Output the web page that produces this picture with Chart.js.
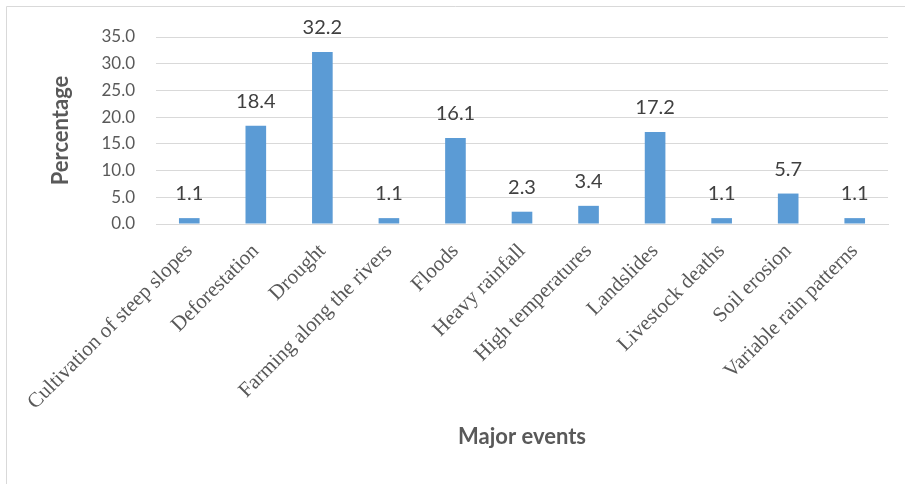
<!DOCTYPE html>
<html>
<head>
<meta charset="utf-8">
<script src="https://cdn.jsdelivr.net/npm/chart.js@4.4.0/dist/chart.umd.min.js"></script>
<style>
html,body{margin:0;padding:0;background:#fff;}
#wrap{width:905px;height:484px;position:relative;}
</style>
</head>
<body>
<div id="wrap"><canvas id="c" width="905" height="484"></canvas></div>
<script>
const categories = ["Cultivation of steep slopes","Deforestation","Drought","Farming along the rivers","Floods","Heavy rainfall","High temperatures","Landslides","Livestock deaths","Soil erosion","Variable rain patterns"];
const percentages = [1.1, 18.4, 32.2, 1.1, 16.1, 2.3, 3.4, 17.2, 1.1, 5.7, 1.1];
const yTicks = [0, 5, 10, 15, 20, 25, 30, 35];
const yTitle = "Percentage";
const xTitle = "Major events";

const frame = {
  id: 'frame',
  beforeDraw(chart) {
    const ctx = chart.ctx;
    ctx.save();
    ctx.strokeStyle = '#d9d9d9';
    ctx.lineWidth = 1;
    ctx.beginPath();
    ctx.moveTo(6.5, 484);
    ctx.lineTo(6.5, 6.5);
    ctx.lineTo(905, 6.5);
    ctx.stroke();
    ctx.restore();
  }
};
const dataLabels = {
  id: 'dataLabels',
  afterDatasetsDraw(chart) {
    const ctx = chart.ctx;
    const meta = chart.getDatasetMeta(0);
    ctx.save();
    ctx.font = '20px Lato';
    ctx.fillStyle = '#404040';
    ctx.textAlign = 'center';
    ctx.textBaseline = 'alphabetic';
    meta.data.forEach((bar, i) => {
      ctx.fillText(percentages[i].toFixed(1), bar.x, bar.y - 18);
    });
    ctx.restore();
  }
};

new Chart(document.getElementById('c'), {
  type: 'bar',
  data: {
    labels: categories,
    datasets: [{
      data: percentages,
      backgroundColor: '#5B9BD5',
      borderWidth: 0,
      barPercentage: 0.31,
      categoryPercentage: 1.0
    }]
  },
  options: {
    responsive: false,
    animation: false,
    devicePixelRatio: 1,
    layout: { padding: { left: 44, right: 17, top: 37, bottom: 30 } },
    plugins: { legend: { display: false }, tooltip: { enabled: false } },
    scales: {
      x: {
        grid: { display: false, drawTicks: false },
        border: { display: true, color: '#d9d9d9', width: 1 },
        ticks: {
          minRotation: 45, maxRotation: 45, autoSkip: false, padding: 15,
          color: '#595959', font: { family: 'Liberation Serif', size: 21 }
        },
        title: { display: true, text: xTitle, color: '#595959', font: { family: 'Lato', size: 22, weight: 'bold' } },
        afterFit(s) { s.height = 484 - 224 - 30; }
      },
      y: {
        min: 0, max: 35,
        afterBuildTicks(s) { s.ticks = yTicks.map(v => ({ value: v })); },
        grid: { color: '#d9d9d9', lineWidth: 1, drawTicks: false },
        border: { display: false },
        ticks: {
          padding: 21, color: '#595959', font: { family: 'Lato', size: 17 },
          callback: v => Number(v).toFixed(1)
        },
        title: { display: true, text: yTitle, color: '#595959', font: { family: 'Lato', size: 22, weight: 'bold' } },
        afterFit(s) { s.width = 156 - 44; }
      }
    }
  },
  plugins: [frame, dataLabels]
});
</script>
</body>
</html>
